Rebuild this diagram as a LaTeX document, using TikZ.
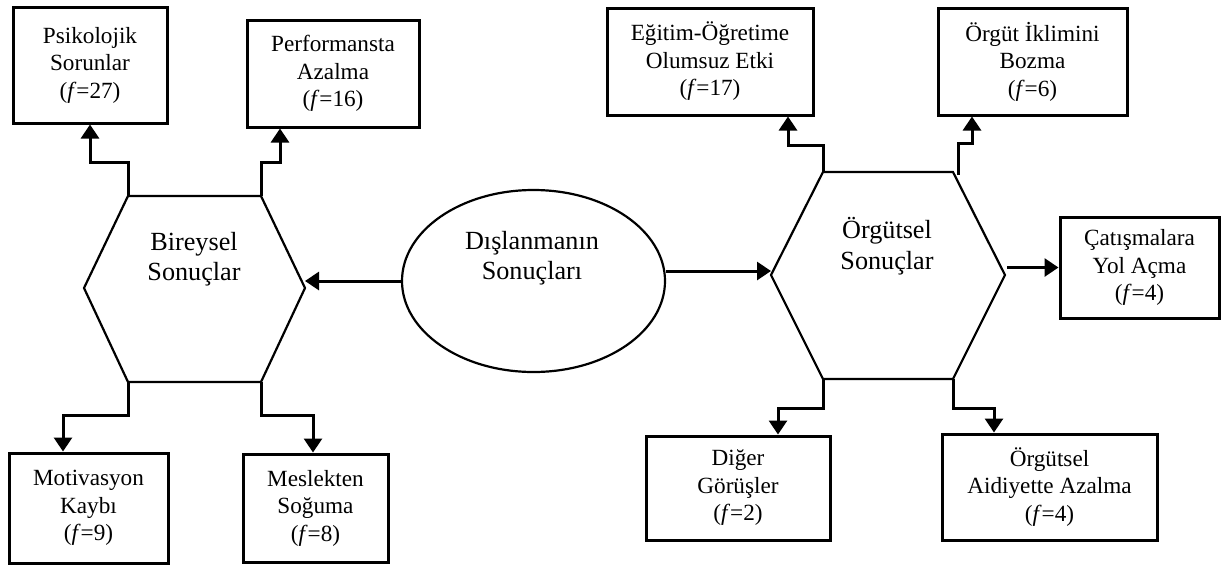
\documentclass[tikz,border=0pt]{standalone}
\usepackage{fontspec}
\setmainfont{Liberation Serif}
\usetikzlibrary{arrows.meta,shapes.geometric}
\newcommand\boxfont{\fontsize{23.2}{27.5}\selectfont}
\newcommand\bigfont{\fontsize{26.2}{30.5}\selectfont}
\tikzset{
  box/.style={draw, rectangle, line width=3pt, inner sep=0pt, align=center, font=\boxfont},
  conn/.style={line width=3pt, line join=miter, -{Triangle[width=18pt 0 0,length=14pt 0 0]}},
  hexline/.style={line width=2.2pt, line join=miter},
  bigtext/.style={align=center, font=\bigfont, inner sep=0pt}
}
\begin{document}
\begin{tikzpicture}[x=1pt,y=-1pt]
\useasboundingbox (0,0) rectangle (1221,566);

% centre ellipse
\node[draw, ellipse, line width=2.2pt, minimum width=263pt, minimum height=182pt, inner sep=0pt] (ell) at (533.5,281) {};
\node[bigtext] (ellt) at (532,258) {Dışlanmanın\\Sonuçları};

% left hexagon
\coordinate (hL-tl) at (128,196);
\coordinate (hL-tr) at (261,196);
\coordinate (hL-r)  at (305,288);
\coordinate (hL-br) at (261,382);
\coordinate (hL-bl) at (128,382);
\coordinate (hL-l)  at (84,288);
\draw[hexline] (hL-tl) -- (hL-tr) -- (hL-r) -- (hL-br) -- (hL-bl) -- (hL-l) -- cycle;
\node[bigtext] (hLt) at (194,259) {Bireysel\\Sonuçlar};

% right hexagon
\coordinate (hR-tl) at (823,172);
\coordinate (hR-tr) at (953,172);
\coordinate (hR-r)  at (1005,275);
\coordinate (hR-br) at (953,379);
\coordinate (hR-bl) at (823,379);
\coordinate (hR-l)  at (771,275);
\draw[hexline] (hR-tl) -- (hR-tr) -- (hR-r) -- (hR-br) -- (hR-bl) -- (hR-l) -- cycle;
\node[bigtext] (hRt) at (887,246) {Örgütsel\\Sonuçlar};

% outcome boxes
\node[box, minimum width=154pt, minimum height=116pt] (psi) at (90,65) {Psikolojik\\Sorunlar\\(\textit{f}=27)};
\node[box, minimum width=172pt, minimum height=107pt] (perf) at (333,73.5) {Performansta\\Azalma\\(\textit{f}=16)};
\node[box, minimum width=159pt, minimum height=110pt] (mot) at (88.5,508) {Motivasyon\\Kaybı\\(\textit{f}=9)};
\node[box, minimum width=145pt, minimum height=108pt] (mes) at (315.5,508) {Meslekten\\Soğuma\\(\textit{f}=8)};
\node[box, minimum width=206pt, minimum height=107pt] (egi) at (710,61.5) {Eğitim-Öğretime\\Olumsuz Etki\\(\textit{f}=17)};
\node[box, minimum width=189pt, minimum height=107pt] (org) at (1032.5,61.5) {Örgüt İklimini\\Bozma\\(\textit{f}=6)};
\node[box, minimum width=159pt, minimum height=101pt] (cat) at (1139.5,267.5) {Çatışmalara\\Yol Açma\\(\textit{f}=4)};
\node[box, minimum width=184pt, minimum height=104pt] (dig) at (738,488) {Diğer\\Görüşler\\(\textit{f}=2)};
\node[box, minimum width=215pt, minimum height=106pt] (aid) at (1049.5,487) {Örgütsel\\Aidiyette Azalma\\(\textit{f}=4)};

% ellipse to hexagons
\draw[conn] (ell.west) -- (ell.west -| hL-r);
\coordinate (e1) at ([yshift=10pt]ell.east);
\draw[conn] (e1) -- (e1 -| hR-l);

% left hexagon to its boxes
\draw[conn] (hL-tl) -- ++(0,-34) -| (psi.south);
\draw[conn] (hL-tr) -- ++(0,-34) -| ([xshift=-53pt]perf.south);
\draw[conn] (hL-bl) -- ++(0,33) -| ([xshift=-25.5pt]mot.north);
\draw[conn] (hL-br) -- ++(0,33) -| ([xshift=-2.5pt]mes.north);

% right hexagon to its boxes
\draw[conn] (hR-tl) -- ++(0,-27) -| ([xshift=78pt]egi.south);
\draw[conn] ([xshift=5pt,yshift=-3pt]hR-tr) -- ++(0,-32) -| ([xshift=-60.5pt]org.south);
\coordinate (c1) at ([xshift=2pt]hR-r |- cat.west);
\draw[conn] (c1) -- (cat.west);
\draw[conn] (hR-bl) -- ++(0,29) -| ([xshift=40pt]dig.north);
\draw[conn] (hR-br) -- ++(0,29) -| ([xshift=-55.5pt]aid.north);
\end{tikzpicture}
\end{document}
